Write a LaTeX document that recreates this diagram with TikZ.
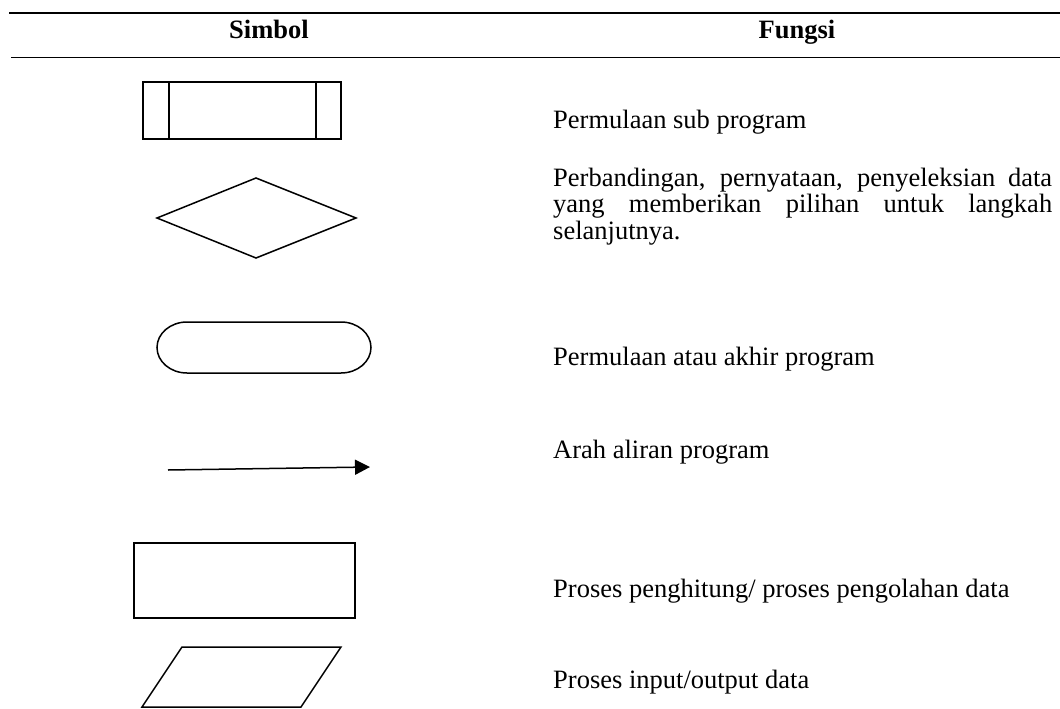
\documentclass[tikz,border=0pt]{standalone}
\usepackage{fontspec}
\setmainfont{Liberation Serif}
\usetikzlibrary{arrows.meta}
\tikzset{
  shape line/.style={line width=1.5pt, draw=black},
  rule line/.style={draw=black},
  txt/.style={anchor=base west, inner sep=0pt, font=\fontsize{26.5}{27}\selectfont},
  head/.style={anchor=base, inner sep=0pt, font=\fontsize{26.5}{27}\selectfont\bfseries},
  flow arrow/.style={line width=1.5pt, -{Triangle[length=15pt,width=15pt]}}
}
\begin{document}
\begin{tikzpicture}[x=1pt,y=-1pt]
\useasboundingbox (0,0) rectangle (1060,709);
% table rules
\coordinate (t1) at (9,13);
\coordinate (t2) at (1060,13);
\coordinate (h1) at (11,58);
\coordinate (h2) at (1060,58);
\draw[rule line, line width=1.7pt] (t1) -- (t2);
\draw[rule line, line width=1pt] (h1) -- (h2);
% headers
\node[head] (hs) at (269,39) {Simbol};
\node[head] (hf) at (797,39) {Fungsi};
% sub program symbol
\draw[shape line] (143,82) rectangle (341,139);
\draw[shape line] (169,82) -- (169,139);
\draw[shape line] (316,82) -- (316,139);
% decision diamond
\draw[shape line] (157,218) -- (256,178) -- (356,218) -- (256,258) -- cycle;
% terminator
\draw[shape line] (187,322) -- (341,322)
  arc[start angle=-90, end angle=90, x radius=30, y radius=25.5]
  -- (187,373)
  arc[start angle=90, end angle=270, x radius=30, y radius=25.5] -- cycle;
% flow arrow
\coordinate (a1) at (168,470);
\coordinate (a2) at (370,467);
\draw[flow arrow] (a1) -- (a2);
% process
\draw[shape line] (134,543) rectangle (355,618);
% input/output
\draw[shape line] (182,647) -- (341,647) -- (301,707) -- (142,707) -- cycle;
% descriptions
\node[txt] (d1) at (553,128) {Permulaan sub program};
\node[txt, text width=499pt, align=justify] (d2) at (553,186)
  {\baselineskip=26.5pt Perbandingan, pernyataan, penyeleksian data\linebreak
   yang memberikan pilihan untuk langkah\linebreak
   selanjutnya.\par};
\node[txt] (d3) at (553,365) {Permulaan atau akhir program};
\node[txt] (d4) at (553,458) {Arah aliran program};
\node[txt] (d5) at (553,597) {Proses penghitung/ proses pengolahan data};
\node[txt] (d6) at (553,688) {Proses input/output data};
\end{tikzpicture}
\end{document}
